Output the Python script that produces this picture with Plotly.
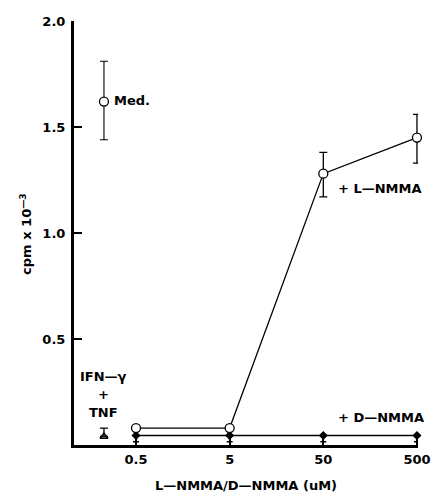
import math
import plotly.graph_objects as go

conc = [0.5, 5, 50, 500]
tick_labels = ["0.5", "5", "50", "500"]
l_nmma = [0.08, 0.08, 1.28, 1.45]
l_err_plus = [0, 0, 0.10, 0.11]
l_err_minus = [0, 0, 0.11, 0.12]
d_nmma = [0.045, 0.045, 0.045, 0.045]
d_err_minus = [0.03, 0.03, 0.03, 0.03]
control_x = [0.2275]
med = [1.62]
med_plus = [0.19]
med_minus = [0.18]
ifn_tnf = [0.04]
ifn_err = [0.04]

FONT = "DejaVu Sans, Arial, sans-serif"

fig = go.Figure()
fig.add_trace(go.Scatter(
    x=conc, y=d_nmma, mode="lines+markers",
    line=dict(color="black", width=1.5),
    marker=dict(symbol="diamond", size=7, color="black"),
    error_y=dict(type="data", array=[0]*4, arrayminus=d_err_minus, color="black", thickness=1.5, width=3),
    cliponaxis=False,
))
fig.add_trace(go.Scatter(
    x=conc, y=l_nmma, mode="lines+markers",
    line=dict(color="black", width=1.3),
    marker=dict(symbol="circle", size=9, color="white", line=dict(color="black", width=1.3)),
    error_y=dict(type="data", array=l_err_plus, arrayminus=l_err_minus, color="black", thickness=1.3, width=4),
    cliponaxis=False,
))
fig.add_trace(go.Scatter(
    x=control_x, y=med, mode="markers",
    marker=dict(symbol="circle", size=9, color="white", line=dict(color="black", width=1.3)),
    error_y=dict(type="data", array=med_plus, arrayminus=med_minus, color="black", thickness=1.1, width=4),
))
fig.add_trace(go.Scatter(
    x=control_x, y=ifn_tnf, mode="markers",
    marker=dict(symbol="triangle-up-open", size=7, color="black", line=dict(width=1.3)),
    error_y=dict(type="data", array=ifn_err, arrayminus=[0], color="black", thickness=1.3, width=4),
))

def ann(x, y, text, xanchor="left"):
    fig.add_annotation(x=x, y=y, xref="x", yref="y", text=text, showarrow=False,
                       xanchor=xanchor, yanchor="middle",
                       font=dict(family=FONT, size=13, color="black"))

ann(math.log10(0.2275) + 0.09, 1.625, "<b>Med.</b>")
ann(math.log10(50) + 0.14, 1.21, "<b>+ L—NMMA</b>")
ann(math.log10(50) + 0.14, 0.13, "<b>+ D—NMMA</b>")
ann(math.log10(0.2275), 0.325, "<b>IFN—γ</b>", "center")
ann(math.log10(0.2275), 0.237, "<b>+</b>", "center")
ann(math.log10(0.2275), 0.152, "<b>TNF</b>", "center")

fig.add_annotation(x=-0.14, y=0.995, xref="paper", yref="y", textangle=-90,
                   text="<b>cpm x 10<sup>—3</sup></b>", showarrow=False,
                   xanchor="center", yanchor="middle",
                   font=dict(family=FONT, size=13, color="black"))

fig.update_layout(
    width=431, height=494,
    margin=dict(l=74, r=13, t=21, b=49, autoexpand=False),
    paper_bgcolor="white", plot_bgcolor="white",
    showlegend=False,
    font=dict(family=FONT, color="black"),
    xaxis=dict(
        type="log", range=[-0.963, 2.71], automargin=False,
        tickvals=conc, ticktext=["<b>%s</b>" % t for t in tick_labels],
        ticks="inside", ticklen=8, tickwidth=2, tickcolor="black",
        showline=True, linecolor="black", linewidth=3,
        showgrid=False, zeroline=False,
        tickfont=dict(family=FONT, size=13, color="black"),
        title=dict(text="<b>L—NMMA/D—NMMA (uM)</b>", font=dict(family=FONT, size=13, color="black"), standoff=16),
    ),
    yaxis=dict(
        range=[0, 2.0], automargin=False,
        tickvals=[0.5, 1.0, 1.5, 2.0], ticktext=["<b>0.5</b>", "<b>1.0</b>", "<b>1.5</b>", "<b>2.0</b>"],
        ticks="inside", ticklen=8, tickwidth=2, tickcolor="black",
        showline=True, linecolor="black", linewidth=3,
        showgrid=False, zeroline=False, ticklabelstandoff=3,
        tickfont=dict(family=FONT, size=13, color="black"),
    ),
)

fig.write_html("out.html")
